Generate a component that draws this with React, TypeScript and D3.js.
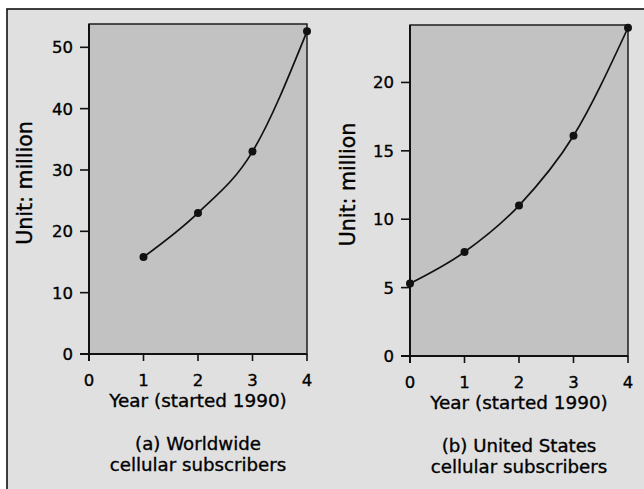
import React from 'react';
import * as d3 from 'd3';

// values
const xTicks = [0, 1, 2, 3, 4];
const worldYears = [1, 2, 3, 4];
const worldSubs = [15.8, 23, 33, 52.6];
const worldTicks = [0, 10, 20, 30, 40, 50];
const usYears = [0, 1, 2, 3, 4];
const usSubs = [5.3, 7.6, 11, 16.1, 24];
const usTicks = [0, 5, 10, 15, 20];

const FONT = "'DejaVu Sans', 'Open Sans', sans-serif";

interface PanelProps {
  left: number;
  top: number;
  right: number;
  bottom: number;
  yMax: number;
  years: number[];
  values: number[];
  yTicks: number[];
  caption: string[];
  labelX: number;
}

const Panel = ({ left, top, right, bottom, yMax, years, values, yTicks, caption, labelX }: PanelProps) => {
  const x = d3.scaleLinear().domain([0, 4]).range([left, right]);
  const y = d3.scaleLinear().domain([0, yMax]).range([bottom, top]);
  const pts = years.map((yr, i) => [yr, values[i]] as [number, number]);
  const line = d3.line<[number, number]>()
    .x(d => x(d[0]))
    .y(d => y(d[1]))
    .curve(d3.curveMonotoneX);
  const cx = (left + right) / 2;

  return (
    <g fontFamily={FONT} fill="#000">
      <rect x={left} y={top} width={right - left} height={bottom - top} fill="#c2c2c2" stroke="#111" strokeWidth={1.4} />
      {/* axes */}
      <line x1={left - 9} x2={right} y1={bottom} y2={bottom} stroke="#111" strokeWidth={2} />
      <line x1={left} x2={left} y1={top} y2={bottom + 7} stroke="#111" strokeWidth={2} />
      {/* scanned print looks a little heavier than the regular face */}
      <g stroke="#000" strokeWidth={0.35}>
        {yTicks.map(t => (
          <g key={'y' + t}>
            <line x1={left - 9} x2={left} y1={y(t)} y2={y(t)} stroke="#111" strokeWidth={1.6} />
            <text x={left - 16} y={y(t)} dy="0.36em" textAnchor="end" fontSize={16.5}>{t}</text>
          </g>
        ))}
        {xTicks.map(t => (
          <g key={'x' + t}>
            <line x1={x(t)} x2={x(t)} y1={bottom} y2={bottom + 7} stroke="#111" strokeWidth={1.6} />
            <text x={x(t)} y={bottom + 32} textAnchor="middle" fontSize={16.5}>{t}</text>
          </g>
        ))}
        <text x={cx} y={bottom + 53} textAnchor="middle" fontSize={18.4}>Year (started 1990)</text>
        <text transform={`translate(${labelX},${(top + bottom) / 2 - 6}) rotate(-90)`} textAnchor="middle" fontSize={20.5}>Unit: million</text>
        {caption.map((c, i) => (
          <text key={c} x={cx} y={bottom + 96 + i * 21} textAnchor="middle" fontSize={18.2}>{c}</text>
        ))}
      </g>
      <path d={line(pts) || ''} fill="none" stroke="#111" strokeWidth={1.7} />
      {pts.map(p => (
        <circle key={p[0]} cx={x(p[0])} cy={y(p[1])} r={4} fill="#111" />
      ))}
    </g>
  );
};

const App = () => {
  return (
    <div style={{ position: 'absolute', left: 0, top: 0 }}>
      <svg width={644} height={489} style={{ display: 'block', background: '#fff' }}>
        <rect x={7} y={9} width={700} height={520} fill="#e0e0e0" stroke="#111" strokeWidth={1.6} />
        <Panel left={89} top={24} right={307} bottom={354} yMax={53.8}
          years={worldYears} values={worldSubs} yTicks={worldTicks}
          caption={['(a) Worldwide', 'cellular subscribers']} labelX={32} />
        <Panel left={410} top={25} right={628} bottom={356} yMax={24.2}
          years={usYears} values={usSubs} yTicks={usTicks}
          caption={['(b) United States', 'cellular subscribers']} labelX={355} />
      </svg>
    </div>
  );
};

export default App;
